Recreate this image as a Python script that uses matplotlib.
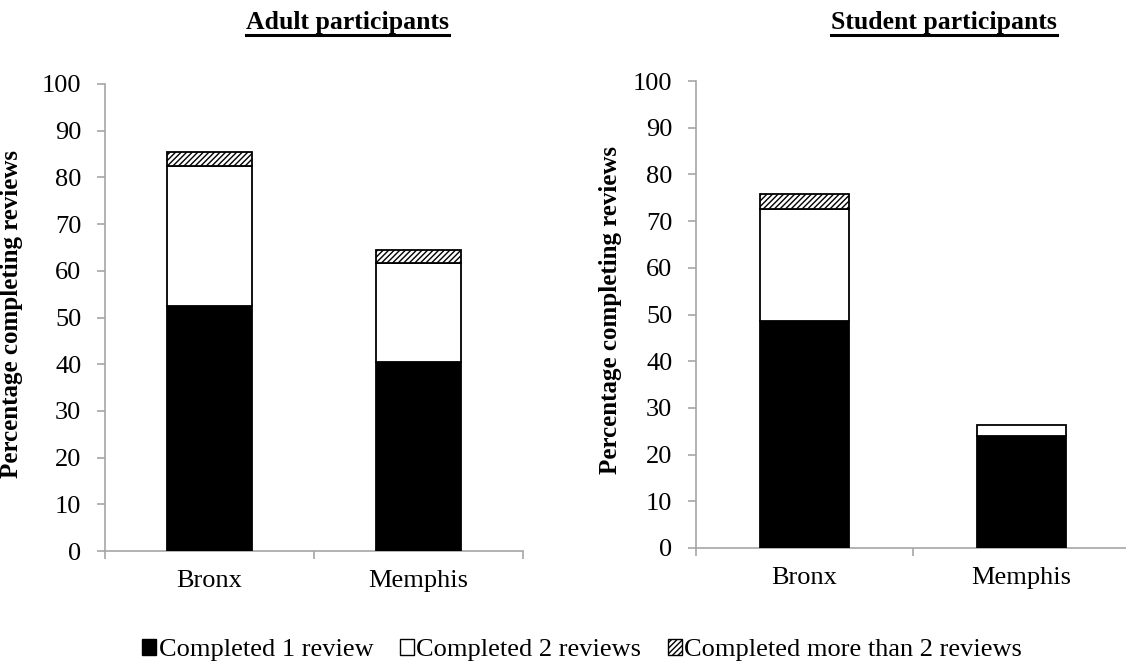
import matplotlib
matplotlib.use("Agg")
import matplotlib.pyplot as plt
from matplotlib.patches import Patch
import numpy as np

plt.rcParams['font.family'] = ['Liberation Serif', 'DejaVu Serif']
plt.rcParams['hatch.linewidth'] = 1.0

sites = ["Bronx", "Memphis"]
series_names = ["Completed 1 review", "Completed 2 reviews", "Completed more than 2 reviews"]
adult_one = [52.4, 40.5]
adult_two = [30.1, 21.1]
adult_more = [3.0, 2.9]
student_one = [48.7, 23.9]
student_two = [23.9, 2.4]
student_more = [3.2, 0.0]
yticks = list(range(0, 101, 10))

W, H = 1126, 667
fig = plt.figure(figsize=(W / 100, H / 100), dpi=100)

def fx(px):
    return px / W

def fy(py):
    return 1 - py / H

panels = [
    dict(title="Adult participants", data=(adult_one, adult_two, adult_more),
         box=(105, 84, 523, 551), title_x=347, ylab_x=12),
    dict(title="Student participants", data=(student_one, student_two, student_more),
         box=(696, 81, 1130, 548), title_x=944, ylab_x=611),
]

gray = "#A6A6A6"
styles = [dict(color="black", edgecolor="black", hatch=None),
          dict(color="white", edgecolor="black", hatch=None),
          dict(color="white", edgecolor="black", hatch="//////")]

FS = 19
for p in panels:
    x0, y0, x1, y1 = p["box"]
    ax = fig.add_axes([fx(x0), fy(y1), fx(x1 - x0), (y1 - y0) / H])
    x = np.arange(len(sites))
    bottom = np.zeros(len(sites))
    for vals, st in zip(p["data"], styles):
        vals = np.array(vals)
        mask = vals > 0
        ax.bar(x[mask], vals[mask], width=0.41, bottom=bottom[mask],
               color=st["color"], edgecolor=st["edgecolor"], hatch=st["hatch"],
               linewidth=1.3, zorder=3)
        bottom = bottom + vals
    ax.set_xlim(-0.5, len(sites) - 0.5)
    ax.set_ylim(0, 100)
    ax.set_yticks(yticks)
    ax.set_xticks(x)
    ax.set_xticklabels(sites)
    ax.set_xticks([-0.5, 0.5, 1.5], minor=True)
    ax.tick_params(axis='x', which='major', length=0, pad=14, labelsize=FS)
    ax.tick_params(axis='x', which='minor', length=6, color=gray, width=1.2, direction='out')
    ax.tick_params(axis='y', which='major', length=6, color=gray, width=1.2,
                   direction='out', pad=11, labelsize=FS)
    for s in ["top", "right"]:
        ax.spines[s].set_visible(False)
    for s in ["left", "bottom"]:
        ax.spines[s].set_color(gray)
        ax.spines[s].set_linewidth(1.2)
    cy = (y0 + y1) / 2
    fig.text(fx(p["ylab_x"]), fy(cy - 4), "Percentage completing reviews", rotation=90,
             ha="center", va="center", fontsize=18, fontweight="bold")
    t = fig.text(fx(p["title_x"]), fy(29), p["title"], ha="center", va="baseline",
                 fontsize=18.5, fontweight="bold")
    p["title_text"] = t

fig.canvas.draw()
r = fig.canvas.get_renderer()
for p in panels:
    bb = p["title_text"].get_window_extent(renderer=r)
    yline = fy(34.5)
    fig.add_artist(plt.Line2D([bb.x0 / W, bb.x1 / W], [yline, yline],
                              color="black", linewidth=2.2, transform=fig.transFigure))

handles = [Patch(facecolor=st["color"], edgecolor="black", hatch=st["hatch"], linewidth=1.0)
           for st in styles]
fig.legend(handles, series_names, loc="center", bbox_to_anchor=(fx(582), fy(650)),
           ncol=3, frameon=False, fontsize=FS, handlelength=0.55, handleheight=0.55,
           handletextpad=0.08, columnspacing=1.0, borderpad=0, borderaxespad=0)

fig.savefig("out.png", dpi=100)
